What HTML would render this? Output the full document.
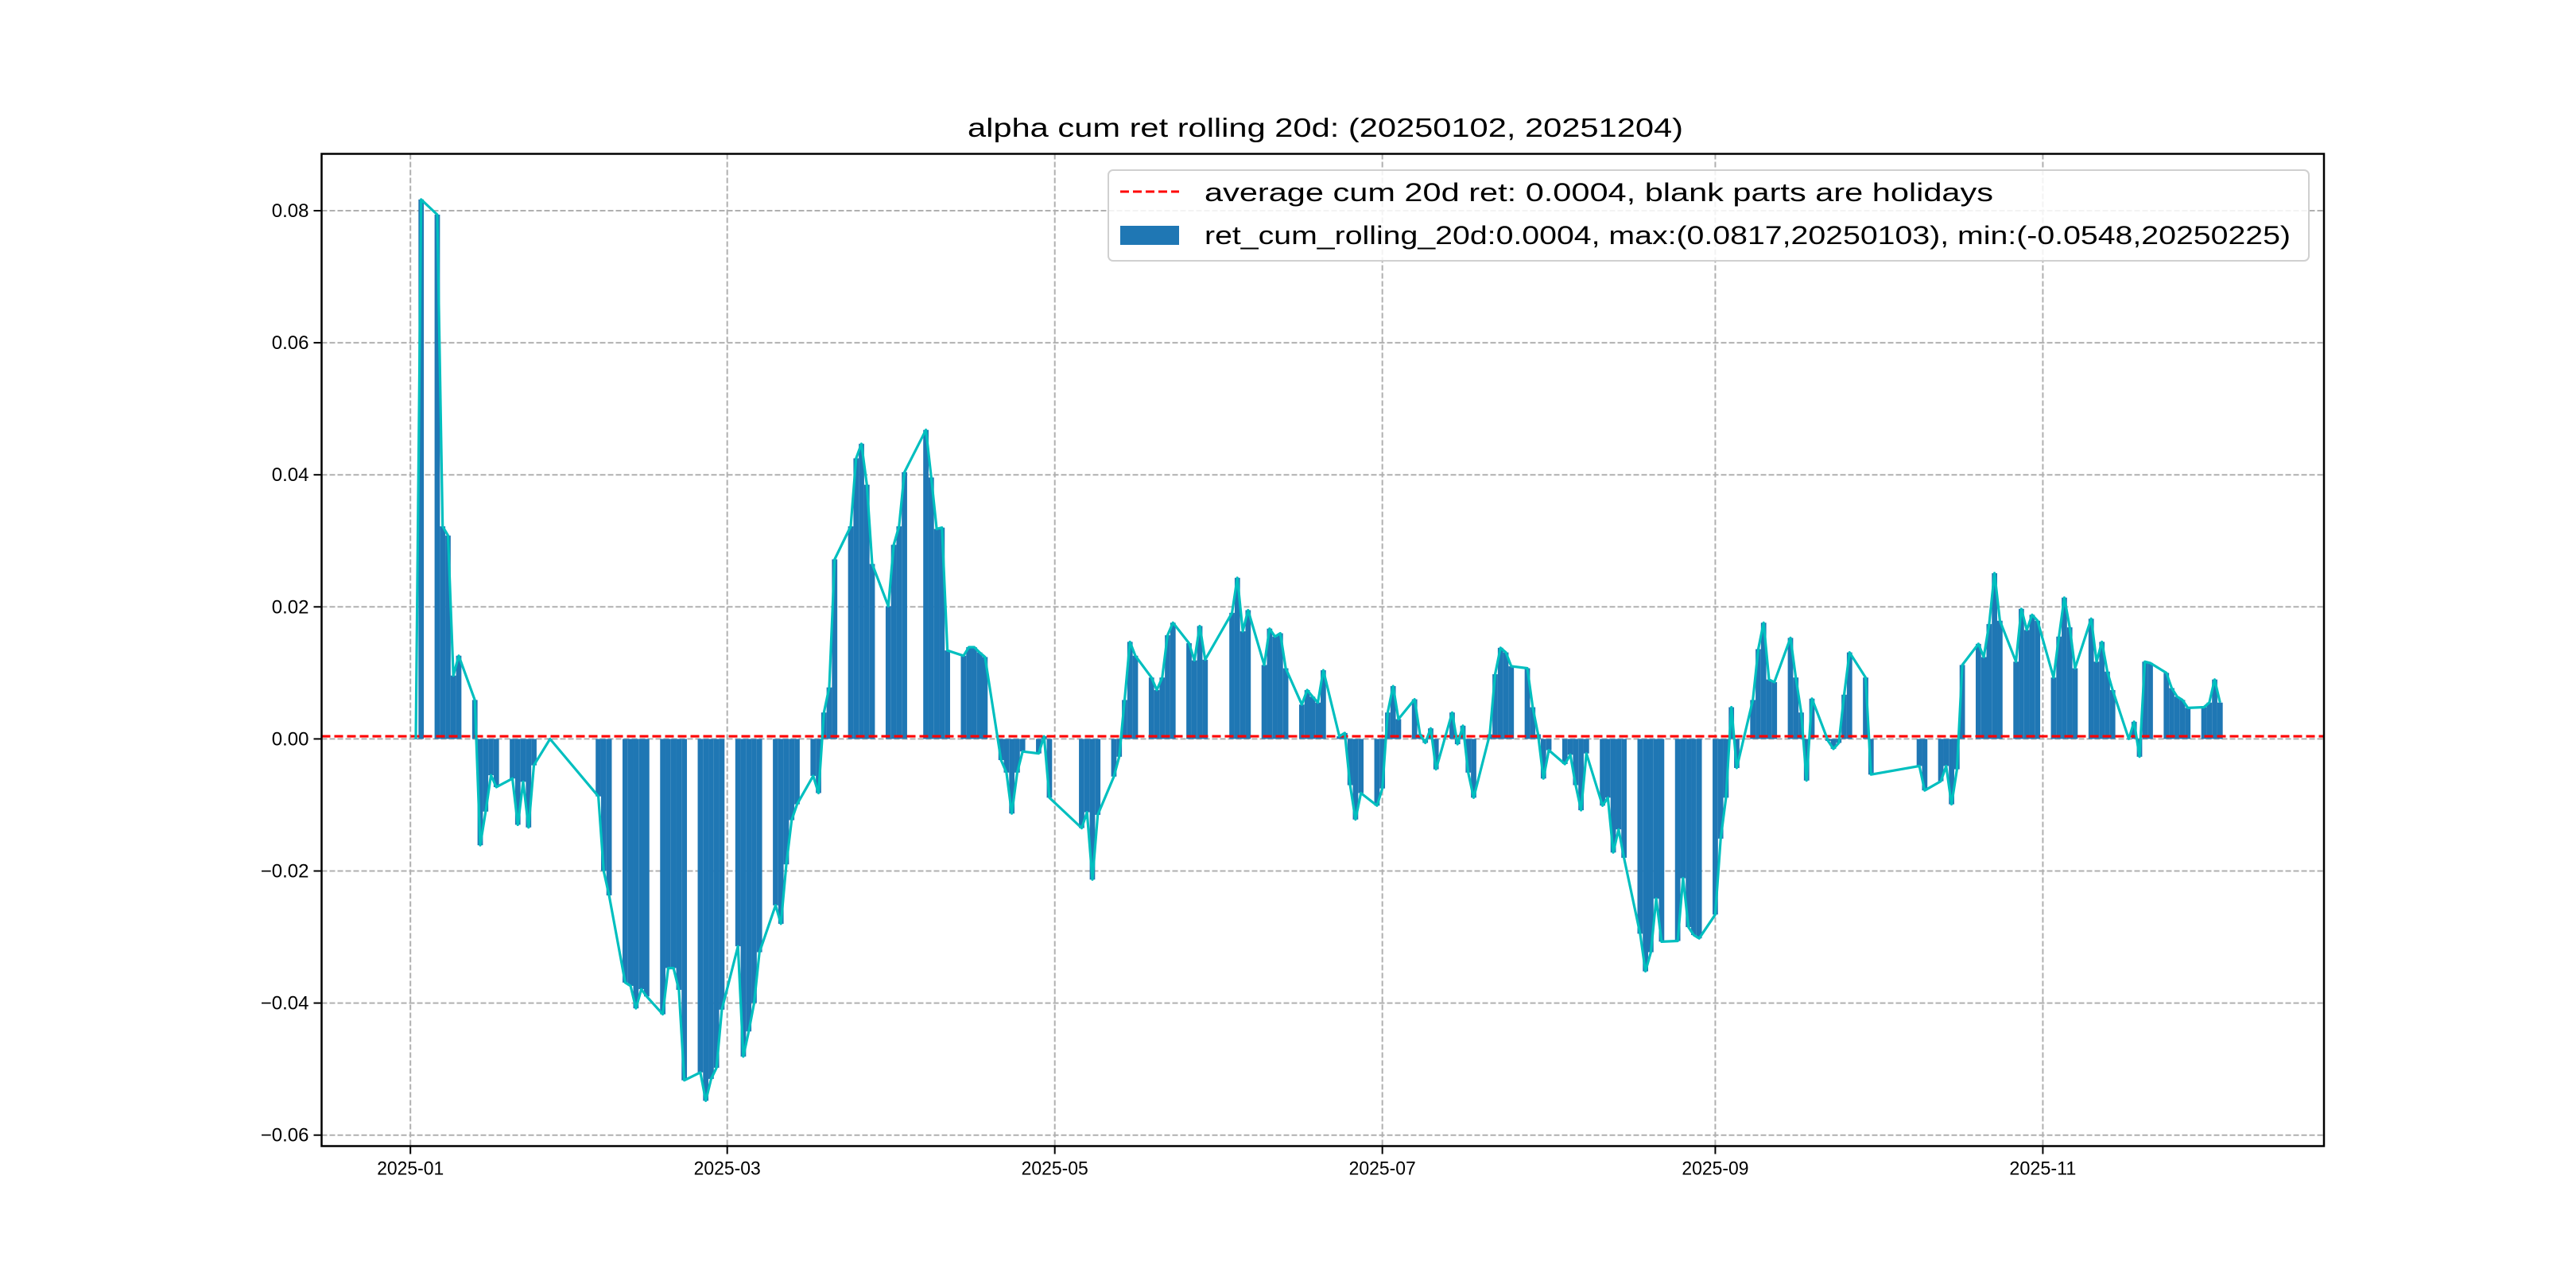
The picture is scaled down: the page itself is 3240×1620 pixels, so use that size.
<!DOCTYPE html>
<html><head><meta charset="utf-8">
<style>
html,body{margin:0;padding:0;background:#fff;}
svg{display:block;}
text{font-family:"Liberation Sans","WenQuanYi Zen Hei",sans-serif;}
</style></head>
<body>
<svg id="chart" xmlns="http://www.w3.org/2000/svg" width="3240" height="1620" viewBox="0 0 3240 1620">
<rect x="0" y="0" width="3240" height="1620" fill="#fff"/>
<g id="grid"></g>
<g id="bars"></g>
<g id="avgline"></g>
<g id="series"></g>
<rect x="404.5" y="193.5" width="2518.5" height="1248" fill="none" stroke="#000" stroke-width="2.5"/>
<g id="ticks"></g>
<text x="1667" y="172" font-size="33" text-anchor="middle" textLength="900" lengthAdjust="spacingAndGlyphs">alpha cum ret rolling 20d: (20250102, 20251204)</text>
<g>
<rect x="1394" y="214" width="1510" height="114" rx="6" fill="#fff" fill-opacity="0.85" stroke="#d0d0d0" stroke-width="2"/>
<line x1="1409" y1="241" x2="1483" y2="241" stroke="#ff0000" stroke-width="3" stroke-dasharray="11,5"/>
<text x="1515" y="253" font-size="32" textLength="992" lengthAdjust="spacingAndGlyphs">average cum 20d ret: 0.0004, blank parts are holidays</text>
<rect x="1409" y="284" width="74" height="24" fill="#1f77b4"/>
<text x="1515" y="307" font-size="32" textLength="1366" lengthAdjust="spacingAndGlyphs">ret_cum_rolling_20d:0.0004, max:(0.0817,20250103), min:(-0.0548,20250225)</text>
</g>
</svg>
<script>
const dates = ["2025-01-02","2025-01-03","2025-01-06","2025-01-07","2025-01-08","2025-01-09","2025-01-10","2025-01-13","2025-01-14","2025-01-15","2025-01-16","2025-01-17","2025-01-20","2025-01-21","2025-01-22","2025-01-23","2025-01-24","2025-01-27","2025-02-05","2025-02-06","2025-02-07","2025-02-10","2025-02-11","2025-02-12","2025-02-13","2025-02-14","2025-02-17","2025-02-18","2025-02-19","2025-02-20","2025-02-21","2025-02-24","2025-02-25","2025-02-26","2025-02-27","2025-02-28","2025-03-03","2025-03-04","2025-03-05","2025-03-06","2025-03-07","2025-03-10","2025-03-11","2025-03-12","2025-03-13","2025-03-14","2025-03-17","2025-03-18","2025-03-19","2025-03-20","2025-03-21","2025-03-24","2025-03-25","2025-03-26","2025-03-27","2025-03-28","2025-03-31","2025-04-01","2025-04-02","2025-04-03","2025-04-07","2025-04-08","2025-04-09","2025-04-10","2025-04-11","2025-04-14","2025-04-15","2025-04-16","2025-04-17","2025-04-18","2025-04-21","2025-04-22","2025-04-23","2025-04-24","2025-04-25","2025-04-28","2025-04-29","2025-04-30","2025-05-06","2025-05-07","2025-05-08","2025-05-09","2025-05-12","2025-05-13","2025-05-14","2025-05-15","2025-05-16","2025-05-19","2025-05-20","2025-05-21","2025-05-22","2025-05-23","2025-05-26","2025-05-27","2025-05-28","2025-05-29","2025-06-03","2025-06-04","2025-06-05","2025-06-06","2025-06-09","2025-06-10","2025-06-11","2025-06-12","2025-06-13","2025-06-16","2025-06-17","2025-06-18","2025-06-19","2025-06-20","2025-06-23","2025-06-24","2025-06-25","2025-06-26","2025-06-27","2025-06-30","2025-07-01","2025-07-02","2025-07-03","2025-07-04","2025-07-07","2025-07-08","2025-07-09","2025-07-10","2025-07-11","2025-07-14","2025-07-15","2025-07-16","2025-07-17","2025-07-18","2025-07-21","2025-07-22","2025-07-23","2025-07-24","2025-07-25","2025-07-28","2025-07-29","2025-07-30","2025-07-31","2025-08-01","2025-08-04","2025-08-05","2025-08-06","2025-08-07","2025-08-08","2025-08-11","2025-08-12","2025-08-13","2025-08-14","2025-08-15","2025-08-18","2025-08-19","2025-08-20","2025-08-21","2025-08-22","2025-08-25","2025-08-26","2025-08-27","2025-08-28","2025-08-29","2025-09-01","2025-09-02","2025-09-03","2025-09-04","2025-09-05","2025-09-08","2025-09-09","2025-09-10","2025-09-11","2025-09-12","2025-09-15","2025-09-16","2025-09-17","2025-09-18","2025-09-19","2025-09-22","2025-09-23","2025-09-24","2025-09-25","2025-09-26","2025-09-29","2025-09-30","2025-10-09","2025-10-10","2025-10-13","2025-10-14","2025-10-15","2025-10-16","2025-10-17","2025-10-20","2025-10-21","2025-10-22","2025-10-23","2025-10-24","2025-10-27","2025-10-28","2025-10-29","2025-10-30","2025-10-31","2025-11-03","2025-11-04","2025-11-05","2025-11-06","2025-11-07","2025-11-10","2025-11-11","2025-11-12","2025-11-13","2025-11-14","2025-11-17","2025-11-18","2025-11-19","2025-11-20","2025-11-21","2025-11-24","2025-11-25","2025-11-26","2025-11-27","2025-11-28","2025-12-01","2025-12-02","2025-12-03","2025-12-04"];
const values = [0,0.0817,0.0794,0.0322,0.0308,0.0096,0.0126,0.0059,-0.0161,-0.011,-0.0055,-0.0073,-0.006,-0.013,-0.0065,-0.0134,-0.004,0,-0.0087,-0.02,-0.0237,-0.0369,-0.0374,-0.0408,-0.0379,-0.039,-0.0417,-0.0347,-0.0347,-0.038,-0.0517,-0.0505,-0.0548,-0.0515,-0.0498,-0.041,-0.0314,-0.0481,-0.0443,-0.04,-0.0323,-0.0252,-0.028,-0.019,-0.0123,-0.0099,-0.0056,-0.0082,0.004,0.0078,0.0272,0.0322,0.0425,0.0447,0.0385,0.0265,0.0201,0.0294,0.0322,0.0404,0.0468,0.0396,0.0318,0.032,0.0134,0.0126,0.0139,0.0139,0.0131,0.0124,-0.0032,-0.0051,-0.0113,-0.0051,-0.0019,-0.0022,0.0004,-0.0089,-0.0135,-0.0111,-0.0213,-0.0115,-0.0057,-0.0027,0.0059,0.0147,0.0126,0.0093,0.0074,0.0093,0.0157,0.0176,0.0145,0.0119,0.0171,0.012,0.0191,0.0244,0.0163,0.0195,0.0112,0.0167,0.0155,0.016,0.0107,0.0052,0.0074,0.0064,0.0055,0.0104,0.0004,0.0009,-0.007,-0.0122,-0.0082,-0.0101,-0.0075,0.004,0.008,0.003,0.006,0.0007,-0.0006,0.0016,-0.0046,0.004,-0.0008,0.002,-0.0051,-0.0089,0.0007,0.0098,0.0138,0.0131,0.011,0.0107,0.0048,0.0007,-0.006,-0.0017,-0.0038,-0.0024,-0.007,-0.0108,-0.0022,-0.0101,-0.0089,-0.0172,-0.0137,-0.018,-0.0295,-0.0352,-0.0323,-0.0242,-0.0307,-0.0306,-0.0211,-0.0285,-0.0297,-0.0302,-0.0266,-0.0151,-0.0089,0.0048,-0.0044,0.0059,0.0136,0.0176,0.009,0.0086,0.0153,0.0093,0.004,-0.0063,0.0061,-0.0003,-0.0015,-0.0006,0.0067,0.0131,0.0093,-0.0054,-0.0041,-0.0078,-0.0064,-0.0041,-0.0099,-0.0046,0.0112,0.0144,0.0124,0.0174,0.0251,0.0179,0.0117,0.0197,0.0165,0.0188,0.0179,0.0093,0.0155,0.0214,0.0169,0.0107,0.0182,0.0117,0.0147,0.0102,0.0074,0,0.0026,-0.0027,0.0117,0.0115,0.01,0.0077,0.0064,0.0059,0.0047,0.0048,0.0055,0.009,0.0055];
const avgValue = 0.0004;
const yTicks = [-0.06,-0.04,-0.02,0,0.02,0.04,0.06,0.08];
const yTickLabels = ["\u22120.06","\u22120.04","\u22120.02","0.00","0.02","0.04","0.06","0.08"];
const xTicks = ["2025-01-01","2025-03-01","2025-05-01","2025-07-01","2025-09-01","2025-11-01"];
const xTickLabels = ["2025-01","2025-03","2025-05","2025-07","2025-09","2025-11"];

const NS="http://www.w3.org/2000/svg";
const L=404.5,R=2923,T=193.5,B=1441.5;
const DAY=86400000, t0=Date.UTC(2025,0,1), pxDay=6.754, x0=516.2;
function dayOf(s){const p=s.split('-');return (Date.UTC(+p[0],+p[1]-1,+p[2])-t0)/DAY;}
function X(s){return x0+dayOf(s)*pxDay;}
function Y(v){return 929.4-v/0.02*166.1;}
function mk(tag,attrs,parent){const e=document.createElementNS(NS,tag);for(const k in attrs)e.setAttribute(k,attrs[k]);parent.appendChild(e);return e;}
const grid=document.getElementById('grid'),ticks=document.getElementById('ticks');
yTicks.forEach((v,i)=>{
  const y=Y(v);
  const g=mk('line',{x1:L,x2:R,y1:y,y2:y,stroke:'#b0b0b0','stroke-width':2,'stroke-dasharray':'7,3'},grid);
  
  
  const tk=mk('line',{x1:L-10,x2:L,y1:y,y2:y,stroke:'#000','stroke-width':2},ticks);
  
  
  const t=mk('text',{x:L-16,y:y+8,'font-size':24,'text-anchor':'end'},ticks);
  t.textContent=yTickLabels[i];
  
  
});
xTicks.forEach((d,i)=>{
  const x=X(d);
  const g=mk('line',{x1:x,x2:x,y1:T,y2:B,stroke:'#b0b0b0','stroke-width':2,'stroke-dasharray':'7,3'},grid);
  
  
  const tk=mk('line',{x1:x,x2:x,y1:B,y2:B+10,stroke:'#000','stroke-width':2},ticks);
  
  
  const t=mk('text',{x:x,y:B+36,'font-size':24,'text-anchor':'middle',textLength:84,lengthAdjust:'spacingAndGlyphs'},ticks);
  t.textContent=xTickLabels[i];
  
  
});
const bars=document.getElementById('bars');
const y0=Y(0), bw=pxDay*1.0;
dates.forEach((d,i)=>{
  const x=X(d), y=Y(values[i]);
  const r=mk('rect',{x:x-bw/2,y:Math.min(y,y0),width:bw,height:Math.max(Math.abs(y-y0),0.5),fill:'#1f77b4'},bars);
  
  
});
const ay=Y(avgValue);
const al=mk('line',{x1:L,x2:R,y1:ay,y2:ay,stroke:'#ff0000','stroke-width':3.2,'stroke-dasharray':'11,5'},document.getElementById('avgline'));


const pts=dates.map((d,i)=>X(d).toFixed(1)+','+Y(values[i]).toFixed(1)).join(' ');
const pl=mk('polyline',{points:pts,fill:'none',stroke:'#00bfbf','stroke-width':3.2,'stroke-linejoin':'round'},document.getElementById('series'));


</script>
</body></html>
